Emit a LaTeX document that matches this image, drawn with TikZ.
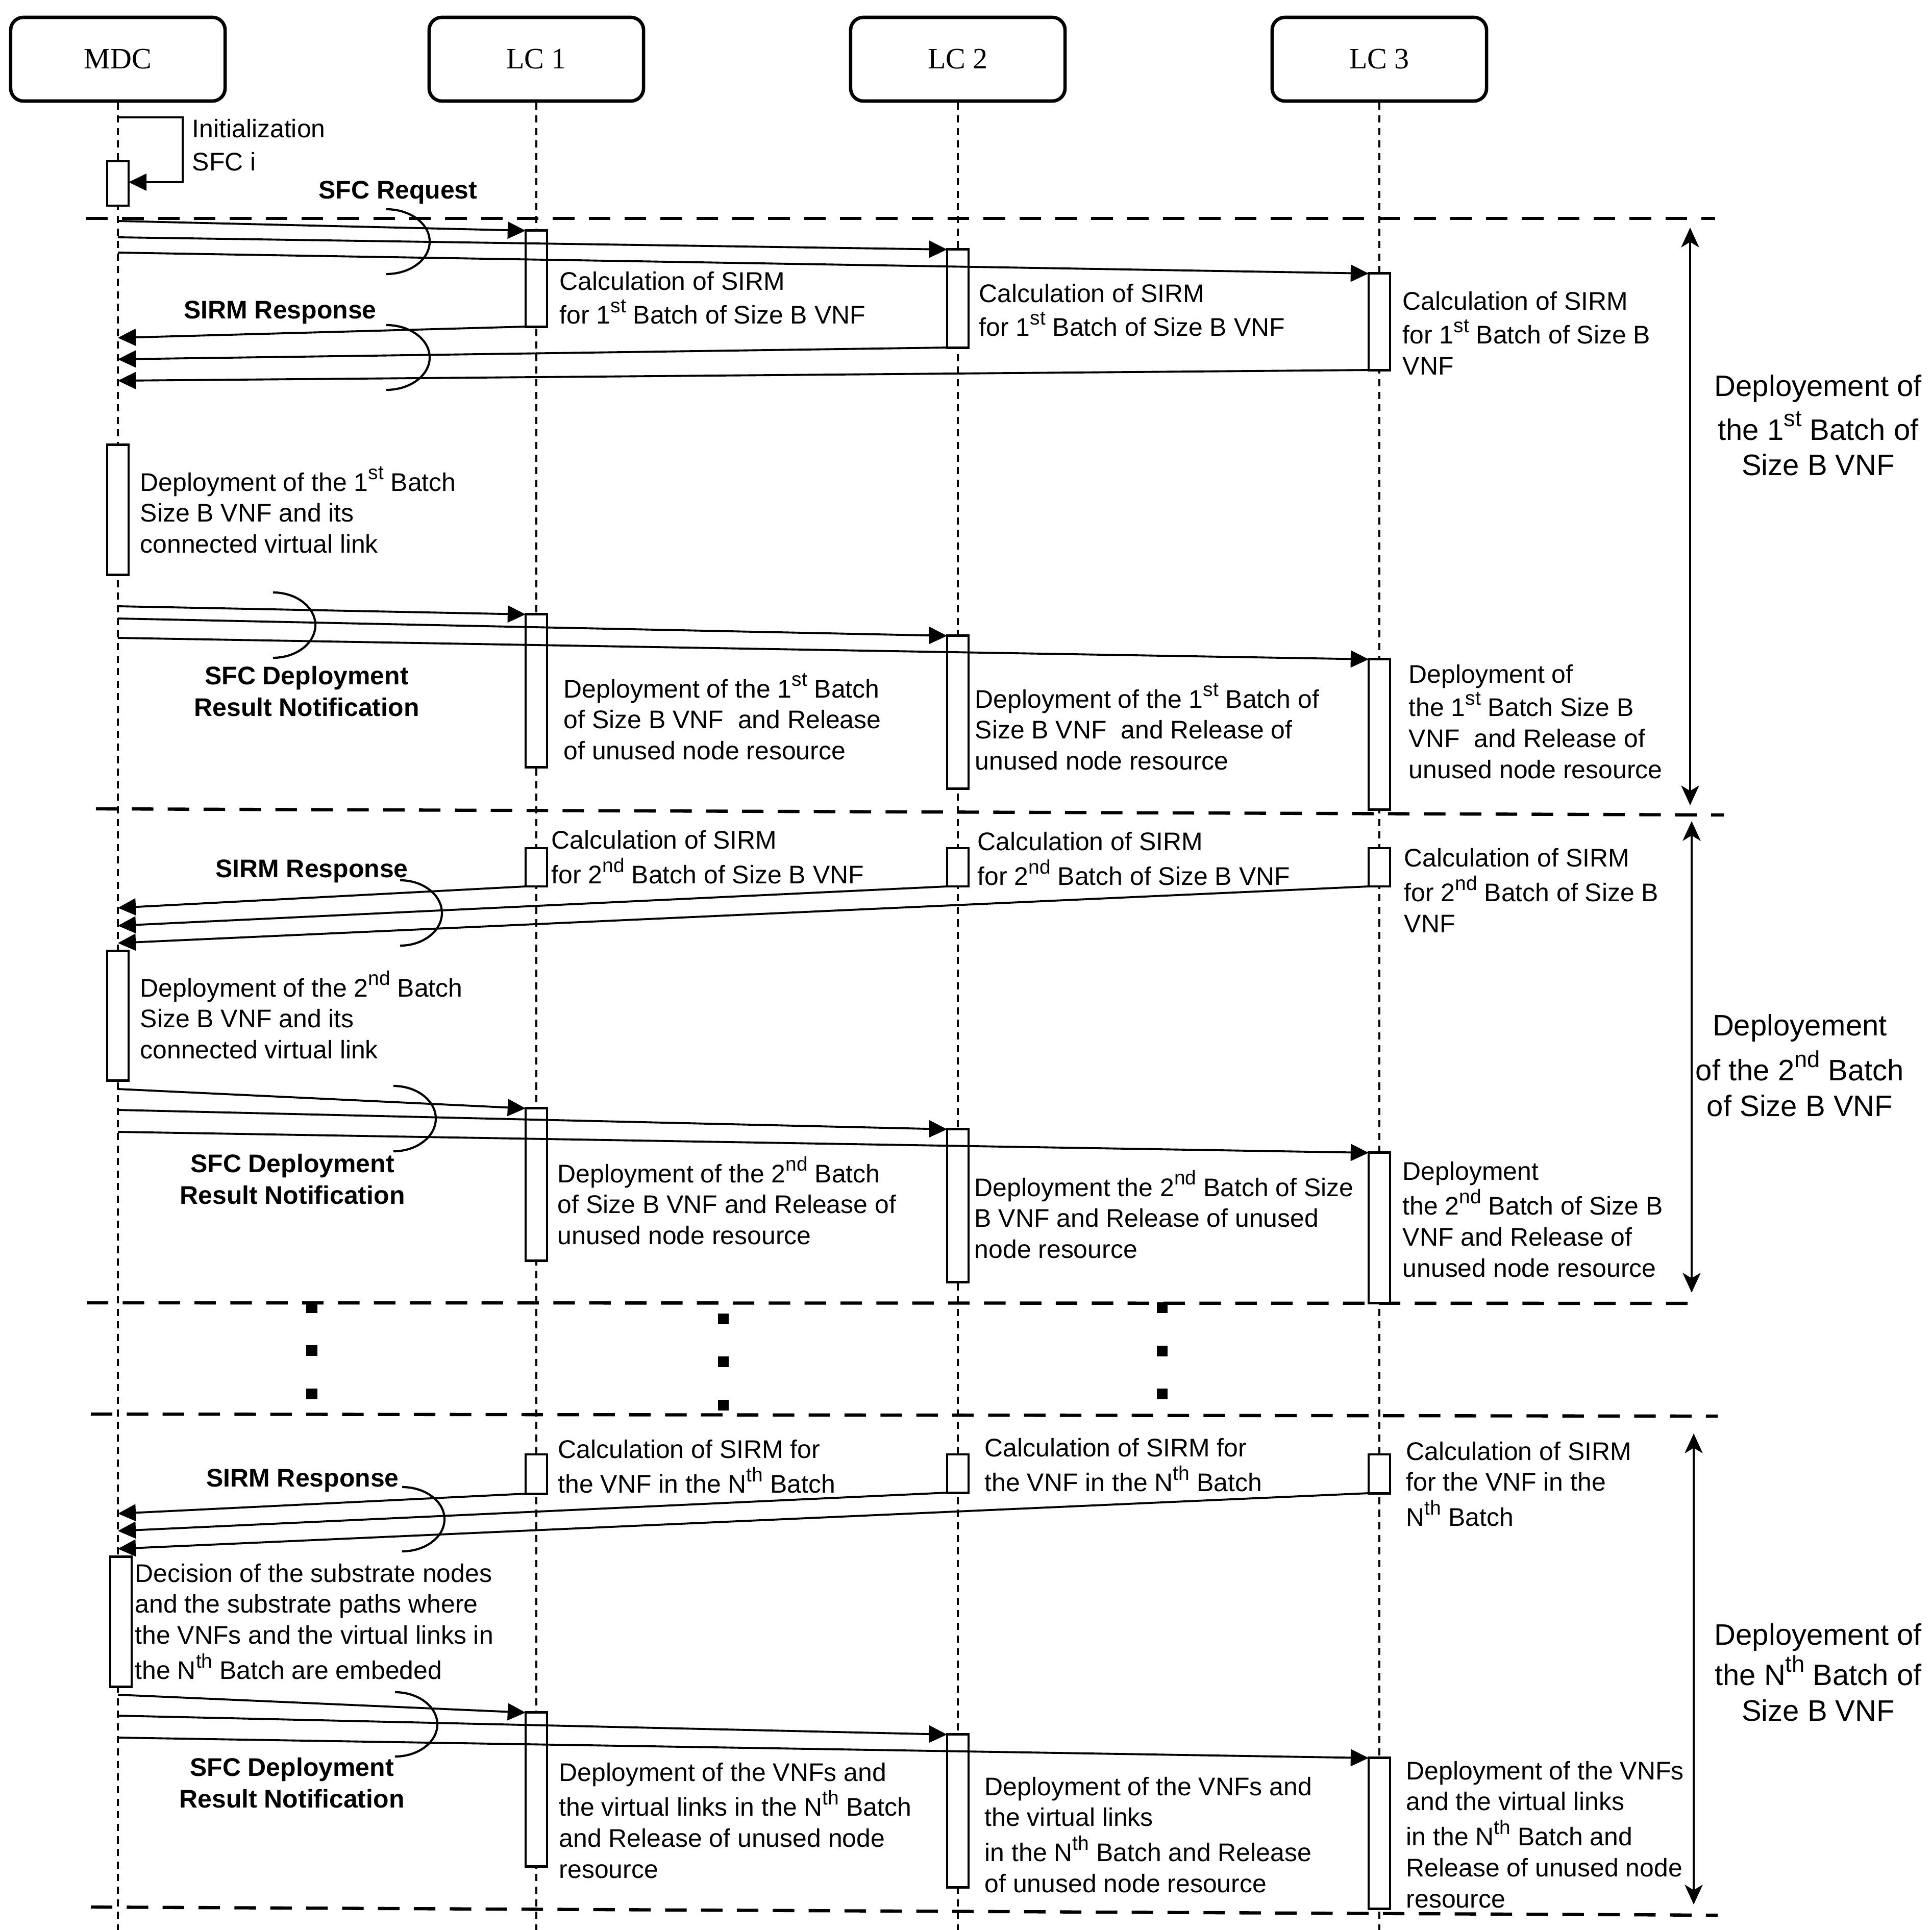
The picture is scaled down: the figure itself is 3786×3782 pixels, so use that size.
\documentclass[tikz,border=0pt]{standalone}
\usepackage{fontspec}
\setmainfont{Liberation Sans}
\newfontfamily\headfont{Liberation Serif}
\usetikzlibrary{arrows.meta}
\newcommand{\sps}[1]{\raisebox{0.45em}{\scalebox{0.78}{#1}}}
% multi-line texts, placed by the baseline of their first line
\newcommand{\ltext}[1]{\begin{tabular}[t]{@{}l@{}}#1\end{tabular}}
\newcommand{\ctext}[1]{\begin{tabular}[t]{@{}c@{}}#1\end{tabular}}

\tikzset{
  head/.style={draw, line width=1.9pt, rounded corners=0.25cm, minimum width=4.2cm, minimum height=1.64cm, font=\headfont\fontsize{16.5}{20}\selectfont},
  life/.style={line width=0.95pt, dash pattern=on 4pt off 3pt},
  batchsep/.style={line width=1.8pt, dash pattern=on 12pt off 8pt},
  act/.style={draw, fill=white, line width=1.4pt, minimum width=0.42cm, inner sep=0, outer sep=0},
  msg/.style={line width=1.1pt, -{Triangle[length=10pt,width=9.4pt]}},
  phasearrow/.style={line width=1.2pt, {Stealth[length=11pt,width=10pt,inset=3pt]}-{Stealth[length=11pt,width=10pt,inset=3pt]}},
  bracket/.style={line width=1.2pt},
  txt/.style={anchor=base west, inner sep=0, font=\fontsize{14.2}{17.3}\selectfont},
  lbl/.style={anchor=base, inner sep=0, font=\bfseries\fontsize{14.2}{17.8}\selectfont},
  phase/.style={anchor=base, inner sep=0, font=\fontsize{16.5}{19.8}\selectfont},
  sdot/.style={fill, minimum size=0.21cm, inner sep=0}
}

\begin{document}
\begin{tikzpicture}[x=0.01cm, y=-0.01cm]
\useasboundingbox (0,0) rectangle (3786,3782);

% heads and lifelines
\node[head] (mdc) at (231,116) {MDC};
\node[head] (lc1) at (1051,116) {LC 1};
\node[head] (lc2) at (1877,116) {LC 2};
\node[head] (lc3) at (2703,116) {LC 3};
\coordinate (mdcend) at (231,3782);
\coordinate (lc1end) at (1051,3782);
\coordinate (lc2end) at (1877,3782);
\coordinate (lc3end) at (2703,3782);
\draw[life] (mdc) -- (mdcend);
\draw[life] (lc1) -- (lc1end);
\draw[life] (lc2) -- (lc2end);
\draw[life] (lc3) -- (lc3end);

% batch separators
\coordinate (s1l) at (169,428);  \coordinate (s1r) at (3361,428);
\coordinate (s2l) at (188,1585); \coordinate (s2r) at (3378,1597);
\coordinate (s3l) at (170,2553); \coordinate (s3r) at (3332,2554);
\coordinate (s4l) at (178,2771); \coordinate (s4r) at (3366,2775);
\coordinate (s5l) at (178,3737); \coordinate (s5r) at (3366,3753);
\draw[batchsep] (s1l) -- (s1r);
\draw[batchsep] (s2l) -- (s2r);
\draw[batchsep] (s3l) -- (s3r);
\draw[batchsep] (s4l) -- (s4r);
\draw[batchsep] (s5l) -- (s5r);

% activation boxes
\node[act, minimum height=0.87cm] (ma0) at (231,359.5) {};
\node[act, minimum height=2.54cm] (ma1) at (231,999) {};
\node[act, minimum height=2.53cm] (ma2) at (231,1990.5) {};
\node[act, minimum height=2.54cm] (ma3) at (237,3178) {};

\node[act, minimum height=1.88cm] (c1a) at (1051,546) {};
\node[act, minimum height=2.99cm] (c1b) at (1051,1353.5) {};
\node[act, minimum height=0.75cm] (c1c) at (1051,1699.5) {};
\node[act, minimum height=2.98cm] (c1d) at (1051,2321) {};
\node[act, minimum height=0.77cm] (c1e) at (1051,2888.5) {};
\node[act, minimum height=3.01cm] (c1f) at (1051,3506.5) {};

\node[act, minimum height=1.92cm] (c2a) at (1877,585) {};
\node[act, minimum height=2.99cm] (c2b) at (1877,1395.5) {};
\node[act, minimum height=0.75cm] (c2c) at (1877,1699.5) {};
\node[act, minimum height=2.99cm] (c2d) at (1877,2362.5) {};
\node[act, minimum height=0.75cm] (c2e) at (1877,2887.5) {};
\node[act, minimum height=2.99cm] (c2f) at (1877,3548.5) {};

\node[act, minimum height=1.89cm] (c3a) at (2703,630.5) {};
\node[act, minimum height=2.94cm] (c3b) at (2703,1439) {};
\node[act, minimum height=0.75cm] (c3c) at (2703,1699.5) {};
\node[act, minimum height=2.94cm] (c3d) at (2703,2406) {};
\node[act, minimum height=0.76cm] (c3e) at (2703,2888) {};
\node[act, minimum height=2.95cm] (c3f) at (2703,3592.5) {};

% initialization
\coordinate (i0) at (231,230);
\coordinate (i1) at (358,357);
\draw[msg] (i0) -| (i1) -- (ma0.east |- i1);
\node[txt] (tinit) at (376,270) {\ltext{Initialization\\[1pt]SFC i}};

% ---- 1st batch
\coordinate (q1) at (231,433);
\coordinate (q2) at (231,465);
\coordinate (q3) at (231,495);
\draw[msg] (q1) -- (c1a.north west);
\draw[msg] (q2) -- (c2a.north west);
\draw[msg] (q3) -- (c3a.north west);
\draw[bracket] (757,410) arc[start angle=-90, end angle=90, x radius=85, y radius=63.5];
\node[lbl] (lreq) at (780,390) {SFC Request};

\node[txt] (tc1a) at (1096,569) {\ltext{Calculation of SIRM\\for 1\sps{st} Batch of Size B VNF}};
\node[txt] (tc2a) at (1918,593) {\ltext{Calculation of SIRM\\for 1\sps{st} Batch of Size B VNF}};
\node[txt] (tc3a) at (2748,608) {\ltext{Calculation of SIRM\\for 1\sps{st} Batch of Size B\\VNF}};

\coordinate (r1) at (231,662);
\coordinate (r2) at (231,704);
\coordinate (r3) at (231,746);
\draw[msg] (c1a.south west) -- (r1);
\draw[msg] (c2a.south west) -- (r2);
\draw[msg] (c3a.south west) -- (r3);
\draw[bracket] (757,637) arc[start angle=-90, end angle=90, x radius=85, y radius=63.5];
\node[lbl] (lresa) at (549,625) {SIRM Response};

\node[txt] (tma1) at (274,962) {\ltext{Deployment of the 1\sps{st} Batch\\Size B VNF and its\\connected virtual link}};

\coordinate (p1) at (231,1188);
\coordinate (p2) at (231,1212);
\coordinate (p3) at (231,1250);
\draw[msg] (p1) -- (c1b.north west);
\draw[msg] (p2) -- (c2b.north west);
\draw[msg] (p3) -- (c3b.north west);
\draw[bracket] (535,1161) arc[start angle=-90, end angle=90, x radius=83, y radius=64];
\node[lbl] (ldepa) at (601,1341) {\ctext{SFC Deployment\\Result Notification}};

\node[txt] (tc1b) at (1104,1367) {\ltext{Deployment of the 1\sps{st} Batch\\of Size B VNF~ and Release\\of unused node resource}};
\node[txt] (tc2b) at (1910,1387) {\ltext{Deployment of the 1\sps{st} Batch of\\Size B VNF~ and Release of\\unused node resource}};
\node[txt] (tc3b) at (2760,1338) {\ltext{Deployment of\\the 1\sps{st} Batch Size B\\VNF~ and Release of\\unused node resource}};

\coordinate (a1t) at (3312,446);
\coordinate (a1b) at (3312,1578);
\draw[phasearrow] (a1t) -- (a1b);
\node[phase] (ph1) at (3563,777) {\ctext{Deployement of\\[2.5pt]the 1\sps{st} Batch of\\Size B VNF}};

% ---- 2nd batch
\node[txt] (tc1c) at (1080,1663) {\ltext{Calculation of SIRM\\for 2\sps{nd} Batch of Size B VNF}};
\node[txt] (tc2c) at (1915,1666) {\ltext{Calculation of SIRM\\for 2\sps{nd} Batch of Size B VNF}};
\node[txt] (tc3c) at (2751,1698) {\ltext{Calculation of SIRM\\for 2\sps{nd} Batch of Size B\\VNF}};

\coordinate (r4) at (231,1779);
\coordinate (r5) at (231,1814);
\coordinate (r6) at (231,1848);
\draw[msg] (c1c.south west) -- (r4);
\draw[msg] (c2c.south west) -- (r5);
\draw[msg] (c3c.south west) -- (r6);
\draw[bracket] (784,1725) arc[start angle=-90, end angle=90, x radius=82, y radius=64];
\node[lbl] (lresb) at (611,1719) {SIRM Response};

\node[txt] (tma2) at (274,1953) {\ltext{Deployment of the 2\sps{nd} Batch\\Size B VNF and its\\connected virtual link}};

\coordinate (p4) at (231,2134);
\coordinate (p5) at (231,2175);
\coordinate (p6) at (231,2218);
\draw[msg] (p4) -- (c1d.north west);
\draw[msg] (p5) -- (c2d.north west);
\draw[msg] (p6) -- (c3d.north west);
\draw[bracket] (771,2128) arc[start angle=-90, end angle=90, x radius=83, y radius=64];
\node[lbl] (ldepb) at (573,2297) {\ctext{SFC Deployment\\Result Notification}};

\node[txt] (tc1d) at (1092,2317) {\ltext{Deployment of the 2\sps{nd} Batch\\of Size B VNF and Release of\\unused node resource}};
\node[txt] (tc2d) at (1909,2344) {\ltext{Deployment the 2\sps{nd} Batch of Size\\B VNF and Release of unused\\node resource}};
\node[txt] (tc3d) at (2748,2312) {\ltext{Deployment\\the 2\sps{nd} Batch of Size B\\VNF and Release of\\unused node resource}};

\coordinate (a2t) at (3315,1609);
\coordinate (a2b) at (3315,2533);
\draw[phasearrow] (a2t) -- (a2b);
\node[phase] (ph2) at (3527,2029) {\ctext{Deployement\\[2.5pt]of the 2\sps{nd} Batch\\of Size B VNF}};

% ---- dots
\node[sdot] (d11) at (611,2562) {};
\node[sdot] (d12) at (611,2646) {};
\node[sdot] (d13) at (611,2731) {};
\node[sdot] (d21) at (1417,2584) {};
\node[sdot] (d22) at (1417,2668) {};
\node[sdot] (d23) at (1417,2753) {};
\node[sdot] (d31) at (2277,2562) {};
\node[sdot] (d32) at (2277,2647) {};
\node[sdot] (d33) at (2277,2731) {};

% ---- Nth batch
\node[txt] (tc1e) at (1093,2857) {\ltext{Calculation of SIRM for\\the VNF in the N\sps{th} Batch}};
\node[txt] (tc2e) at (1929,2854) {\ltext{Calculation of SIRM for\\the VNF in the N\sps{th} Batch}};
\node[txt] (tc3e) at (2755,2861) {\ltext{Calculation of SIRM\\for the VNF in the\\N\sps{th} Batch}};

\coordinate (r7) at (231,2966);
\coordinate (r8) at (231,3000);
\coordinate (r9) at (231,3035);
\draw[msg] (c1e.south west) -- (r7);
\draw[msg] (c2e.south west) -- (r8);
\draw[msg] (c3e.south west) -- (r9);
\draw[bracket] (788,2914) arc[start angle=-90, end angle=90, x radius=83, y radius=63];
\node[lbl] (lresc) at (593,2913) {SIRM Response};

\node[txt] (tma3) at (264,3100) {\ltext{Decision of the substrate nodes\\and the substrate paths where\\the VNFs and the virtual links in\\the N\sps{th} Batch are embeded}};

\coordinate (p7) at (231,3321);
\coordinate (p8) at (231,3362);
\coordinate (p9) at (231,3405);
\draw[msg] (p7) -- (c1f.north west);
\draw[msg] (p8) -- (c2f.north west);
\draw[msg] (p9) -- (c3f.north west);
\draw[bracket] (774,3316) arc[start angle=-90, end angle=90, x radius=83, y radius=63];
\node[lbl] (ldepc) at (572,3480) {\ctext{SFC Deployment\\Result Notification}};

\node[txt] (tc1f) at (1095,3490) {\ltext{Deployment of the VNFs and\\the virtual links in the N\sps{th} Batch\\and Release of unused node\\resource}};
\node[txt] (tc2f) at (1929,3518) {\ltext{Deployment of the VNFs and\\the virtual links\\in the N\sps{th} Batch and Release\\of unused node resource}};
\node[txt] (tc3f) at (2755,3487) {\ltext{Deployment of the VNFs\\and the virtual links\\in the N\sps{th} Batch and\\Release of unused node\\resource}};

\coordinate (a3t) at (3319,2809);
\coordinate (a3b) at (3319,3732);
\draw[phasearrow] (a3t) -- (a3b);
\node[phase] (ph3) at (3563,3223) {\ctext{Deployement of\\the N\sps{th} Batch of\\Size B VNF}};

\end{tikzpicture}
\end{document}
